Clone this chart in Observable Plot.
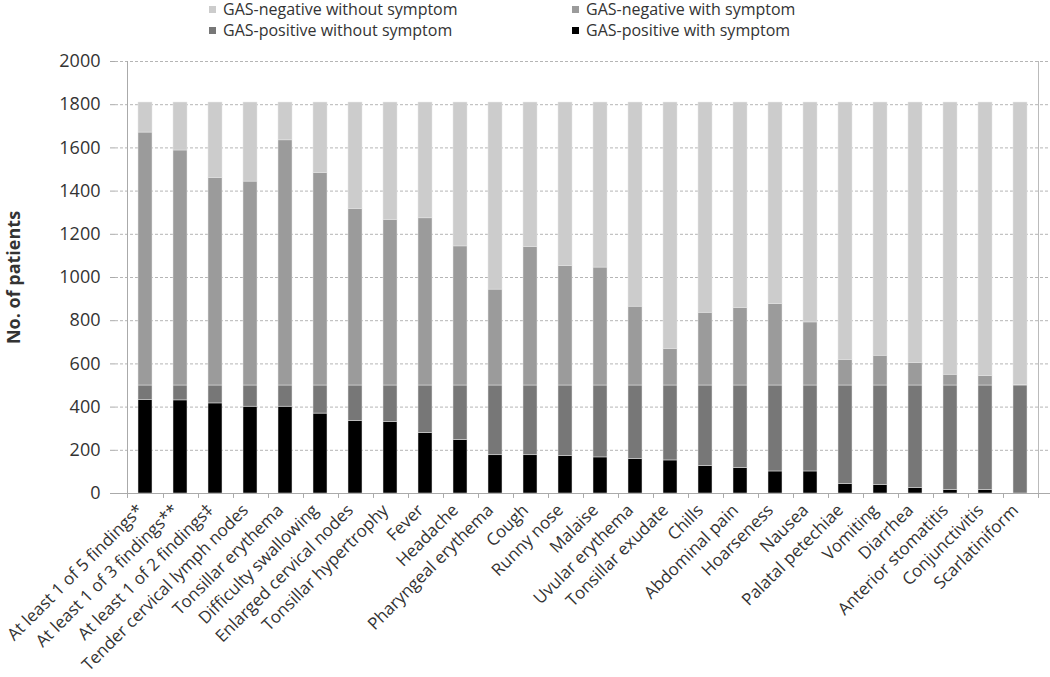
<!DOCTYPE html>
<html>
<head>
<meta charset="utf-8">
<script src="https://cdn.jsdelivr.net/npm/d3@7"></script>
<script src="https://cdn.jsdelivr.net/npm/@observablehq/plot@0.6"></script>
<style>
  html, body { margin: 0; padding: 0; background: #fff; }
  body { width: 1050px; height: 677px; position: relative; overflow: hidden; font-family: "Open Sans", sans-serif; }
  #legend { position: relative; height: 44px; }
  .item { position: absolute; font-size: 16px; color: #333; white-space: nowrap; line-height: 18px; }
  .sw { display: inline-block; width: 7px; height: 7px; margin-right: 7px; vertical-align: 2px; }
  g[aria-label="y-axis label"] text { font-weight: bold; }
</style>
</head>
<body>
<div id="legend"></div>
<div id="chart"></div>
<script>
const categories = [
  "At least 1 of 5 findings*", "At least 1 of 3 findings**", "At least 1 of 2 findings‡",
  "Tender cervical lymph nodes", "Tonsillar erythema", "Difficulty swallowing",
  "Enlarged cervical nodes", "Tonsillar hypertrophy", "Fever", "Headache",
  "Pharyngeal erythema", "Cough", "Runny nose", "Malaise", "Uvular erythema",
  "Tonsillar exudate", "Chills", "Abdominal pain", "Hoarseness", "Nausea",
  "Palatal petechiae", "Vomiting", "Diarrhea", "Anterior stomatitis",
  "Conjunctivitis", "Scarlatiniform"
];
const posWith    = [434, 431, 417, 402, 402, 370, 336, 332, 280, 247, 177, 177, 173, 167, 160, 153, 127, 118, 102, 102, 44, 40, 26, 16, 16, 0];
const posWithout = [66, 69, 83, 98, 98, 130, 164, 168, 220, 253, 323, 323, 327, 333, 340, 347, 373, 382, 398, 398, 456, 460, 474, 484, 484, 500];
const negWith    = [1171, 1088, 961, 944, 1135, 984, 818, 767, 774, 644, 444, 640, 553, 546, 365, 170, 337, 359, 377, 292, 119, 138, 104, 50, 44, 2];
const negWithout = [139, 222, 349, 366, 175, 326, 492, 543, 536, 666, 866, 670, 757, 764, 945, 1140, 973, 951, 933, 1018, 1191, 1172, 1206, 1260, 1266, 1308];

// stacking order: bottom to top
const seriesNames = ["GAS-positive with symptom", "GAS-positive without symptom", "GAS-negative with symptom", "GAS-negative without symptom"];
const seriesColors = ["#000000", "#777777", "#9b9b9b", "#cccccc"];
const seriesValues = [posWith, posWithout, negWith, negWithout];
const yTicks = [0, 200, 400, 600, 800, 1000, 1200, 1400, 1600, 1800, 2000];

// legend order and placement as in reference
const legendItems = [
  {name: "GAS-negative without symptom", left: 209, top: 0},
  {name: "GAS-negative with symptom", left: 572, top: 0},
  {name: "GAS-positive without symptom", left: 209, top: 21},
  {name: "GAS-positive with symptom", left: 572, top: 21}
];
const legend = document.getElementById("legend");
for (const it of legendItems) {
  const d = document.createElement("div");
  d.className = "item";
  d.style.left = it.left + "px";
  d.style.top = it.top + "px";
  const sw = document.createElement("span");
  sw.className = "sw";
  sw.style.background = seriesColors[seriesNames.indexOf(it.name)];
  d.appendChild(sw);
  d.appendChild(document.createTextNode(it.name));
  legend.appendChild(d);
}

const data = [];
categories.forEach((c, i) => {
  seriesNames.forEach((s, j) => data.push({category: c, series: s, value: seriesValues[j][i]}));
});

const half = 18;
const chart = Plot.plot({
  width: 1050,
  height: 633,
  marginTop: 17,
  marginBottom: 184,
  marginLeft: 115,
  marginRight: 0,
  style: {fontFamily: "Open Sans, sans-serif", fontSize: "17px", color: "#333", background: "#fff"},
  x: {domain: categories, paddingInner: 0.6, paddingOuter: 0.3},
  y: {domain: [0, 2000]},
  color: {domain: seriesNames, range: seriesColors},
  marks: [
    Plot.gridY(yTicks.filter(d => d > 0), {stroke: "#b5b5b5", strokeOpacity: 1, strokeDasharray: "3,2"}),
    Plot.barY(data, {x: "category", y: "value", fill: "series", stroke: "#e6e6e6", strokeWidth: 0.5}),
    Plot.ruleY([0], {stroke: "#aaa"}),
    Plot.ruleX([categories[0]], {dx: -half, stroke: "#aaa", y1: -23, y2: 2000}),
    Plot.ruleX([categories[categories.length - 1]], {dx: half, stroke: "#bbb", y1: 0, y2: 2000}),
    Plot.ruleX(categories, {dx: half, y1: 0, y2: -23, stroke: "#aaa"}),
    Plot.axisX({tickRotate: -45, tickSize: 0, tickPadding: 14, dx: -5, fontSize: 17, label: null}),
    Plot.axisY({ticks: yTicks, tickFormat: d => String(d), tickSize: 5, tickPadding: 10, fontSize: 18, stroke: "#aaa",
      label: "No. of patients", labelAnchor: "center", labelOffset: 108, labelArrow: "none"})
  ]
});
document.getElementById("chart").appendChild(chart);
</script>
</body>
</html>
